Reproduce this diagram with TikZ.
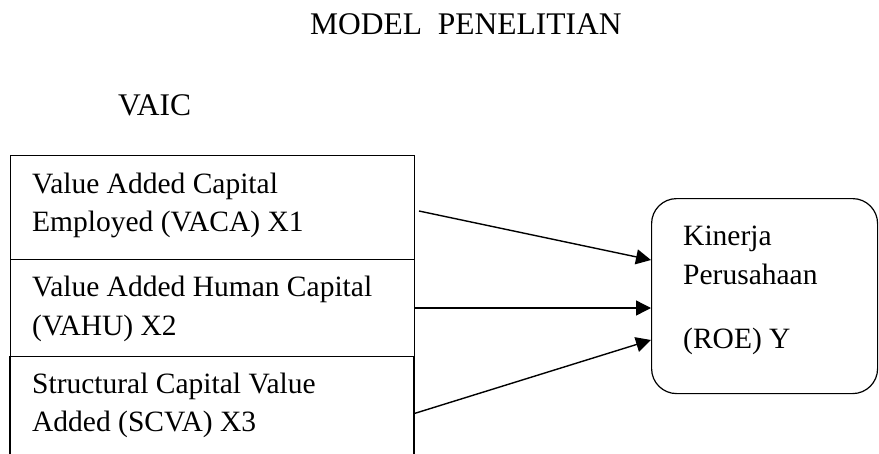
\documentclass[tikz,border=0pt]{standalone}
\usepackage{fontspec}
\setmainfont{Liberation Serif}
\usetikzlibrary{arrows.meta,calc}
\begin{document}
\begin{tikzpicture}[x=1pt,y=-1pt,
  txt/.style={anchor=base west,inner sep=0pt,font=\fontsize{29.5}{35}\selectfont},
  ttl/.style={anchor=base west,inner sep=0pt,font=\fontsize{31.5}{38}\selectfont},
  cell/.style={draw,rectangle,line width=1.2pt,anchor=north west,minimum width=404pt,inner sep=0pt},
  arr/.style={line width=1.4pt,-{Triangle[length=15pt,width=15pt]}}]
\useasboundingbox (0,0) rectangle (879,453);
\node[ttl] (title) at (310,34) {MODEL\ \ PENELITIAN};
\node[ttl] (vaic) at (118,115) {VAIC};
% left table
\node[cell,minimum height=104pt] (b1) at (10,155) {};
\node[cell,minimum height=97pt] (b2) at (10,259) {};
\coordinate (b3nw) at (10,356);
\coordinate (b3ne) at (414,356);
\draw[line width=1.2pt] (b3nw) -- (10,460);
\draw[line width=1.2pt] (b3ne) -- (414,460);
\node[txt] (t1a) at (32,193.3) {Value Added Capital};
\node[txt] (t1b) at (32,231.7) {Employed (VACA) X1};
\node[txt] (t2a) at (32,296.7) {Value Added Human Capital};
\node[txt] (t2b) at (32,335) {(VAHU) X2};
\node[txt] (t3a) at (32,393.3) {Structural Capital Value};
\node[txt] (t3b) at (32,431.7) {Added (SCVA) X3};
% right box
\node[draw,line width=1.2pt,rounded corners=25pt,anchor=north west,minimum width=226pt,minimum height=195pt,inner sep=0pt] (kin) at (651,198) {};
\node[txt] (k1) at (683,245.7) {Kinerja};
\node[txt] (k2) at (683,284) {Perusahaan};
\node[txt] (k3) at (683,348) {(ROE) Y};
% arrows
\coordinate (s1) at (419,211);
\coordinate (s2) at (415,308);
\coordinate (s3) at (415,413.3);
\coordinate (e1) at (651,260);
\coordinate (e2) at (651,308);
\coordinate (e3) at (651,340);
\draw[arr] (s1) -- (e1);
\draw[arr] (s2) -- (e2);
\draw[arr] (s3) -- (e3);
\end{tikzpicture}
\end{document}
